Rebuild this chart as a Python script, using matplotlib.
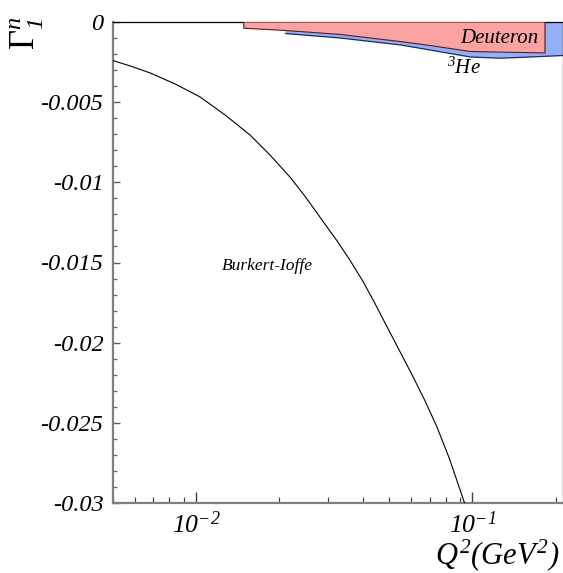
import numpy as np
import matplotlib
matplotlib.use("Agg")
import matplotlib.pyplot as plt
from matplotlib.ticker import FixedLocator, MultipleLocator, NullFormatter

plt.rcParams['font.family'] = ['Liberation Serif', 'DejaVu Serif']
plt.rcParams['mathtext.fontset'] = 'custom'
plt.rcParams['mathtext.rm'] = 'Liberation Serif:italic'
plt.rcParams['mathtext.it'] = 'Liberation Serif:italic'
plt.rcParams['mathtext.sf'] = 'Liberation Serif'
plt.rcParams['mathtext.bf'] = 'Liberation Serif:bold'

# Burkert-Ioffe curve
bi_q2 = [0.005016, 0.005778, 0.006822, 0.008396, 0.010338, 0.012726, 0.015665,
         0.018497, 0.021842, 0.024737, 0.028030, 0.032560, 0.035975, 0.040077,
         0.044272, 0.049318, 0.054506, 0.060737, 0.067097, 0.074131, 0.082604,
         0.092027, 0.093565]
bi_gamma = [-0.002414, -0.002744, -0.003181, -0.003867, -0.004678, -0.005800,
            -0.007048, -0.008295, -0.009667, -0.010852, -0.012162, -0.013721,
            -0.014844, -0.016154, -0.017526, -0.019085, -0.020520, -0.022079,
            -0.023576, -0.025197, -0.027256, -0.029626, -0.030000]

# Deuteron band (upper edge 0)
d_q2 = [0.01487, 0.02108, 0.03330, 0.05483, 0.07037, 0.09810, 0.1830]
d_low = [-0.00039, -0.00053, -0.00078, -0.00122, -0.00147, -0.00184, -0.00193]

# 3He band (upper edge 0)
he_q2 = [0.02108, 0.03330, 0.05483, 0.07037, 0.09810, 0.1259, 0.1487, 0.2126]
he_low = [-0.00072, -0.00100, -0.00143, -0.00175, -0.00218, -0.00226, -0.00221, -0.00209]

yticks = [0, -0.005, -0.01, -0.015, -0.02, -0.025, -0.03]
ytick_labels = ["0", "-0.005", "-0.01", "-0.015", "-0.02", "-0.025", "-0.03"]
xticks = [0.01, 0.1]
xtick_labels = [r"$10^{-2}$", r"$10^{-1}$"]

W, H = 563, 573
fig = plt.figure(figsize=(W / 100, H / 100), dpi=100)
ax = fig.add_axes([113 / W, 70 / H, 450 / W, 481 / H])
ax.set_xscale('log')
ax.set_xlim(0.005, 0.2126)
ax.set_ylim(-0.03, 0)

# 3He band
ax.fill_between(he_q2, 0, he_low, facecolor='#93B0F6', edgecolor='none', zorder=1)
ax.plot(he_q2, he_low, color='#1a2a60', lw=0.9, zorder=2)
# Deuteron band
dx = [d_q2[0]] + d_q2 + [d_q2[-1]]
dy = [0] + d_low + [0]
ax.fill(dx, dy, facecolor='#F9A3A3', edgecolor='#5a1a1a', lw=0.8, zorder=3)

# Burkert-Ioffe
ax.plot(bi_q2, bi_gamma, color='black', lw=0.8, zorder=4)

ax.text(0.1248, -0.00106, "Deuteron", style='italic', fontsize=15,
        ha='center', va='center', zorder=5)
ax.text(0.0810, -0.00324, r"$^{3}$He", style='italic', fontsize=15,
        ha='left', va='baseline', zorder=5)
ax.text(0.0124, -0.01547, "Burkert-Ioffe", style='italic', fontsize=12.5,
        ha='left', va='baseline', zorder=5)

# axes styling
for s in ['left', 'bottom']:
    ax.spines[s].set_color('#808080')
    ax.spines[s].set_linewidth(1.6)
ax.spines['top'].set_color('black')
ax.spines['top'].set_linewidth(0.9)
ax.spines['right'].set_color('black')
ax.spines['right'].set_linewidth(0.9)

ax.yaxis.set_major_locator(FixedLocator(yticks))
ax.set_yticklabels(ytick_labels, fontsize=17.5, style='italic')
ax.yaxis.set_minor_locator(MultipleLocator(0.001))
ax.xaxis.set_major_locator(FixedLocator(xticks))
ax.set_xticklabels(xtick_labels, fontsize=18.5)
ax.xaxis.set_minor_formatter(NullFormatter())

ax.tick_params(axis='y', which='major', direction='in', length=5, width=1.0,
               color='#606060', left=True, right=False, pad=7)
ax.tick_params(axis='y', which='minor', direction='in', length=3, width=0.9,
               color='#606060', left=True, right=False)
ax.tick_params(axis='x', which='major', direction='in', length=8, width=1.0,
               color='#404040', bottom=True, top=False, pad=6)
ax.tick_params(axis='x', which='minor', direction='in', length=4, width=0.9,
               color='#404040', bottom=True, top=False)

fig.text(27 / W, 1 - 33 / H, r"$\mathsf{\Gamma}_{1}^{n}$", rotation=90,
         fontsize=25, ha='center', va='center')
fig.text(560 / W, 1 - 564 / H, r"$Q^{2}(GeV^{2})$", fontsize=22,
         ha='right', va='baseline')

fig.savefig("out.png", dpi=100)
